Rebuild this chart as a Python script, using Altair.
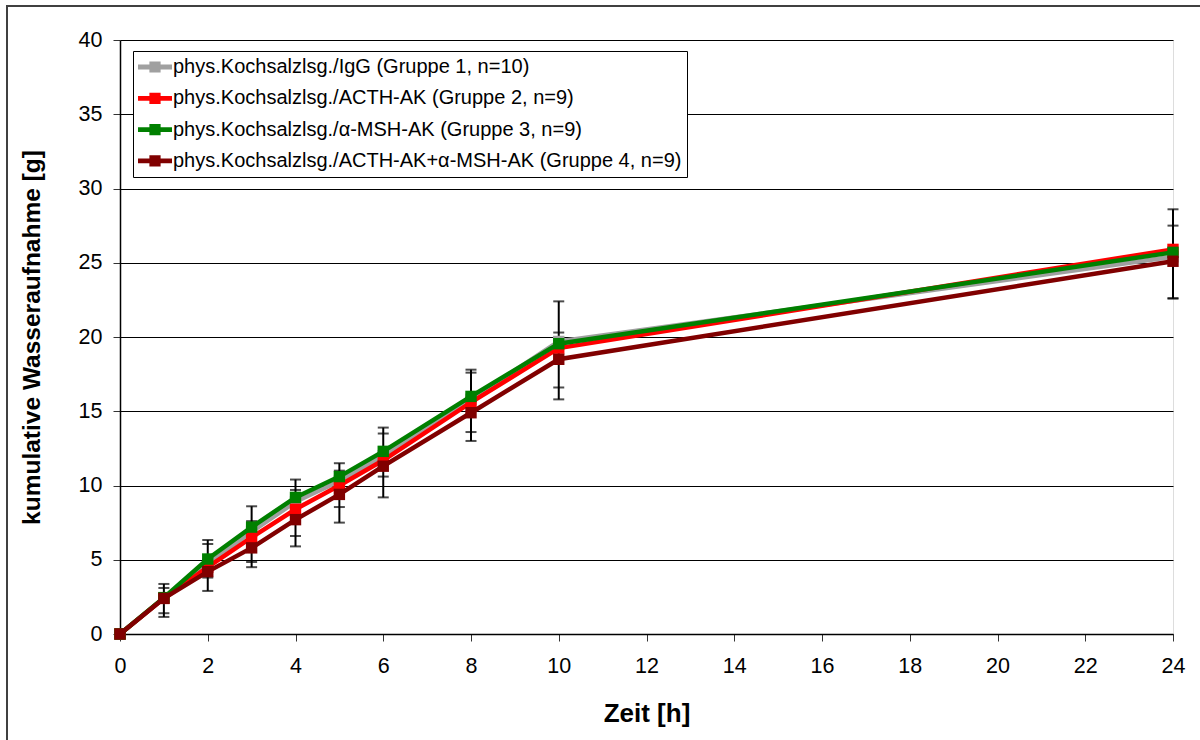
import altair as alt
import pandas as pd

# ---- data ----
times = [0, 1, 2, 3, 4, 5, 6, 8, 10, 24]
series_names = [
    "phys.Kochsalzlsg./IgG (Gruppe 1, n=10)",
    "phys.Kochsalzlsg./ACTH-AK (Gruppe 2, n=9)",
    "phys.Kochsalzlsg./α-MSH-AK (Gruppe 3, n=9)",
    "phys.Kochsalzlsg./ACTH-AK+α-MSH-AK (Gruppe 4, n=9)",
]
series_colors = ["#A0A0A0", "#FF0000", "#008000", "#800000"]
gray_vals = [0, 2.4, 4.7, 6.9, 8.9, 10.3, 12.0, 15.8, 19.7, 25.4]
red_vals = [0, 2.4, 4.5, 6.5, 8.4, 10.0, 11.7, 15.6, 19.25, 25.9]
green_vals = [0, 2.45, 5.05, 7.2, 9.2, 10.6, 12.3, 16.0, 19.55, 25.7]
darkred_vals = [0, 2.4, 4.2, 5.8, 7.7, 9.4, 11.3, 14.9, 18.5, 25.1]
all_vals = [gray_vals, red_vals, green_vals, darkred_vals]

# error bar ends (two overlapping sets of bars)
err_times = [1, 2, 3, 4, 5, 6, 8, 10, 24]
upper1 = [3.37, 6.33, 8.6, 10.4, 11.5, 13.9, 17.8, 22.4, 28.6]
upper2 = [3.1, 6.06, 7.6, 9.7, 11.0, 13.5, 17.6, 20.3, 27.5]
lower1 = [1.4, 3.8, 4.85, 6.6, 8.55, 10.6, 13.6, 16.6, 22.6]
lower2 = [1.15, 2.9, 4.5, 5.9, 7.5, 9.2, 13.0, 15.8, 22.6]

x_ticks = list(range(0, 25, 2))
y_ticks = list(range(0, 41, 5))

# ---- tables ----
rows = []
for name, vals in zip(series_names, all_vals):
    for t, v in zip(times, vals):
        rows.append({"t": t, "v": v, "series": name})
df = pd.DataFrame(rows)

err_df = pd.DataFrame({
    "t": err_times,
    "lo": [min(a, b) for a, b in zip(lower1, lower2)],
    "hi": [max(a, b) for a, b in zip(upper1, upper2)],
})
cap_rows = []
for arr in (upper1, upper2, lower1, lower2):
    for t, v in zip(err_times, arr):
        cap_rows.append({"t": t, "v": v})
cap_df = pd.DataFrame(cap_rows)

FONT = "Liberation Sans"

xscale = alt.Scale(domain=[0, 24], nice=False, zero=False)
yscale = alt.Scale(domain=[0, 40], nice=False)
cscale = alt.Scale(domain=series_names, range=series_colors)

x_axis = alt.Axis(
    title="Zeit [h]", values=x_ticks, grid=False, format="d", labelFlush=False,
    labelFontSize=21.5, titleFontSize=26, titleFontWeight="bold",
    tickSize=7, labelPadding=14, titlePadding=24,
    domainColor="black", domainWidth=1.5, tickColor="#333333",
    labelColor="black", titleColor="black", labelFont=FONT, titleFont=FONT)
y_axis = alt.Axis(
    title="kumulative Wasseraufnahme [g]", values=y_ticks, grid=True,
    gridColor="black", gridWidth=1, labelFlush=False,
    labelFontSize=21.5, titleFontSize=24.5, titleFontWeight="bold",
    tickSize=7, labelPadding=11, titlePadding=34,
    domainColor="black", domainWidth=1.5, tickColor="#333333",
    labelColor="black", titleColor="black", labelFont=FONT, titleFont=FONT)

X = lambda f: alt.X(f, scale=xscale, axis=x_axis)
Y = lambda f: alt.Y(f, scale=yscale, axis=y_axis)

legend = alt.Legend(
    title=None, orient="none", legendX=13, legendY=11,
    symbolType="M-1,-0.14H1V0.14H-1Z M-0.33,-0.33H0.33V0.33H-0.33Z",
    symbolSize=1156, symbolStrokeWidth=0, symbolOffset=0,
    labelFontSize=20, labelFont=FONT, labelColor="black", labelLimit=900,
    labelOffset=1, clipHeight=22, rowPadding=9.3, padding=5,
    strokeColor="black", fillColor="white",
)

err_rule = alt.Chart(err_df).mark_rule(color="black", strokeWidth=2).encode(
    x=X("t:Q"), y=Y("lo:Q"), y2="hi:Q")
err_caps = alt.Chart(cap_df).mark_tick(
    color="black", orient="horizontal", size=11, thickness=2).encode(
    x=X("t:Q"), y=Y("v:Q"))

frame = alt.Chart(pd.DataFrame({"k": [0]})).mark_rect(
    fill=None, stroke="#404040", strokeWidth=2
).encode(x=alt.value(-113), x2=alt.value(1200), y=alt.value(-34), y2=alt.value(800))

layers = [err_rule, err_caps]
for i, name in enumerate(series_names):
    base = alt.Chart(df).transform_filter(alt.datum.series == name)
    line = base.mark_line(strokeWidth=4.5).encode(
        x=X("t:Q"), y=Y("v:Q"),
        color=alt.Color("series:N", scale=cscale, legend=legend),
    )
    pts = base.mark_square(size=130, opacity=1, filled=True).encode(
        x=X("t:Q"), y=Y("v:Q"),
        color=alt.Color("series:N", scale=cscale, legend=legend),
    )
    layers += [line, pts]
layers.append(frame)

chart = alt.layer(*layers).properties(
    width=1053, height=594,
    padding={"left": 120, "top": 40, "right": 27, "bottom": 106},
    autosize="none",
).configure_view(stroke="#888888", strokeWidth=1.5).configure(background="white")

chart.save("out.html", embed_options={"renderer": "svg", "actions": False})
